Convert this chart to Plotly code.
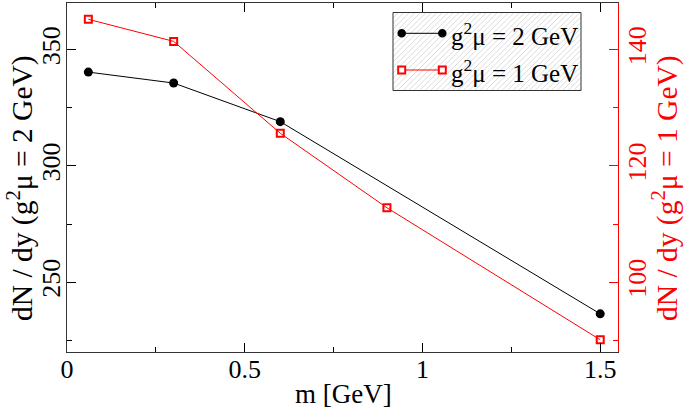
import plotly.graph_objects as go

# Data
m_black = [0.06, 0.3, 0.6, 1.5]
dndy_black = [340.3, 335.6, 319.0, 236.4]
m_red = [0.06, 0.3, 0.6, 0.9, 1.5]
dndy_red = [145.2, 141.4, 125.6, 112.8, 90.1]

x_ticks = [0, 0.5, 1, 1.5]
x_ticklabels = ["0", "0.5", "1", "1.5"]
y1_ticks = [250, 300, 350]
y2_ticks = [100, 120, 140]

name_black = "g<sup>2</sup>μ = 2 GeV"
name_red = "g<sup>2</sup>μ = 1 GeV"
x_title = "m [GeV]"
y1_title = "dN / dy (g<sup>2</sup>μ = 2 GeV)"
y2_title = "dN / dy (g<sup>2</sup>μ = 1 GeV)"

W, H = 685, 408
L, R, T, B = 67, 67, 3, 56
PW, PH = W - L - R, H - T - B
FONT = "Liberation Serif"


def px(x):
    return (x - L) / PW


def py(y):
    return (H - B - y) / PH


fig = go.Figure()
fig.add_trace(go.Scatter(
    x=m_black, y=dndy_black, mode="lines+markers", name=name_black,
    line=dict(color="black", width=1),
    marker=dict(symbol="circle", size=9, color="black"),
))
fig.add_trace(go.Scatter(
    x=m_red, y=dndy_red, mode="lines+markers", yaxis="y2", name=name_red,
    line=dict(color="red", width=1),
    marker=dict(symbol="square-open", size=7, color="red", line=dict(width=2, color="red")),
))

# ---- hand-drawn legend (box with hatching, samples, labels) ----
bx0, bx1, by0, by1 = 393, 581, 12.5, 90.5
shapes = []
shapes.append(dict(type="rect", xref="paper", yref="paper", x0=px(bx0), y0=py(by1), x1=px(bx1), y1=py(by0),
                   fillcolor="white", line=dict(width=0), layer="above"))
h = by1 - by0
c = bx0 - h
while c < bx1:
    xa, ya, xb, yb = c, by1, c + h, by0
    if xa < bx0:
        ya = by1 - (bx0 - xa)
        xa = bx0
    if xb > bx1:
        yb = by0 + (xb - bx1)
        xb = bx1
    if xb > xa:
        shapes.append(dict(type="line", xref="paper", yref="paper", x0=px(xa), y0=py(ya), x1=px(xb), y1=py(yb),
                           line=dict(color="#cfcfcf", width=0.7), layer="above"))
    c += 5.5
shapes.append(dict(type="rect", xref="paper", yref="paper", x0=px(bx0), y0=py(by1), x1=px(bx1), y1=py(by0),
                   fillcolor="rgba(0,0,0,0)", line=dict(width=1, color="#333333"), layer="above"))

lx0, lx1 = 401.7, 442.3
rows = [33.3, 70.0]
shapes.append(dict(type="line", xref="paper", yref="paper", x0=px(lx0), y0=py(rows[0]), x1=px(lx1), y1=py(rows[0]),
                   line=dict(color="black", width=1), layer="above"))
for xc in (lx0, lx1):
    shapes.append(dict(type="circle", xref="paper", yref="paper", x0=px(xc - 4.3), y0=py(rows[0] + 4.3),
                       x1=px(xc + 4.3), y1=py(rows[0] - 4.3), fillcolor="black", line=dict(width=0), layer="above"))
shapes.append(dict(type="line", xref="paper", yref="paper", x0=px(lx0), y0=py(rows[1]), x1=px(lx1), y1=py(rows[1]),
                   line=dict(color="red", width=1), layer="above"))
for xc in (lx0, lx1):
    shapes.append(dict(type="rect", xref="paper", yref="paper", x0=px(xc - 3.5), y0=py(rows[1] + 3.5),
                       x1=px(xc + 3.5), y1=py(rows[1] - 3.5), fillcolor="white",
                       line=dict(width=2, color="red"), layer="above"))

annotations = [
    dict(text=name_black, xref="paper", yref="paper", x=px(449), y=py(rows[0] + 1), xanchor="left", yanchor="middle",
         showarrow=False, font=dict(size=25, family=FONT, color="black")),
    dict(text=name_red, xref="paper", yref="paper", x=px(449), y=py(rows[1] + 1), xanchor="left", yanchor="middle",
         showarrow=False, font=dict(size=25, family=FONT, color="black")),
    dict(text=x_title, xref="paper", yref="paper", x=px(343), y=py(394), xanchor="center", yanchor="middle",
         showarrow=False, font=dict(size=27, family=FONT, color="black")),
    dict(text=y1_title, xref="paper", yref="paper", x=px(20), y=py(188), xanchor="center", yanchor="middle",
         textangle=-90, showarrow=False, font=dict(size=29.5, family=FONT, color="black")),
    dict(text=y2_title, xref="paper", yref="paper", x=px(665), y=py(188), xanchor="center", yanchor="middle",
         textangle=-90, showarrow=False, font=dict(size=29.5, family=FONT, color="red")),
]

fig.update_layout(
    width=W, height=H,
    margin=dict(l=L, r=R, t=T, b=B, autoexpand=False),
    paper_bgcolor="white", plot_bgcolor="white",
    font=dict(family=FONT, size=26, color="black"),
    showlegend=False,
    shapes=shapes,
    annotations=annotations,
    xaxis=dict(
        range=[0, 1.55], tickvals=x_ticks, ticktext=x_ticklabels,
        ticks="inside", ticklen=9, tickwidth=1, tickcolor="black",
        minor=dict(dtick=0.25, tick0=0, ticks="inside", ticklen=5, tickcolor="black"),
        showline=True, linecolor="#333333", linewidth=1, mirror="ticks",
        showgrid=False, zeroline=False, automargin=False,
        tickfont=dict(size=26), ticklabelstandoff=-6,
    ),
    yaxis=dict(
        range=[220, 370], tickvals=y1_ticks, tickangle=-90,
        ticks="inside", ticklen=9, tickwidth=1, tickcolor="black",
        minor=dict(dtick=25, tick0=0, ticks="inside", ticklen=5, tickcolor="black"),
        showline=True, linecolor="#333333", linewidth=1,
        showgrid=False, zeroline=False, automargin=False,
        tickfont=dict(size=26), ticklabelstandoff=-4,
    ),
    yaxis2=dict(
        overlaying="y", side="right", anchor="x",
        range=[88, 148], tickvals=y2_ticks, tickangle=-90,
        ticks="inside", ticklen=9, tickwidth=1, tickcolor="red",
        minor=dict(dtick=10, tick0=0, ticks="inside", ticklen=5, tickcolor="red"),
        showline=True, linecolor="red", linewidth=1,
        showgrid=False, zeroline=False, automargin=False,
        tickfont=dict(size=26, color="red"), ticklabelstandoff=-4,
    ),
)

fig.write_html("out.html", config={"displayModeBar": False},
               post_script="document.body.style.margin='0';document.body.style.overflow='hidden';")
